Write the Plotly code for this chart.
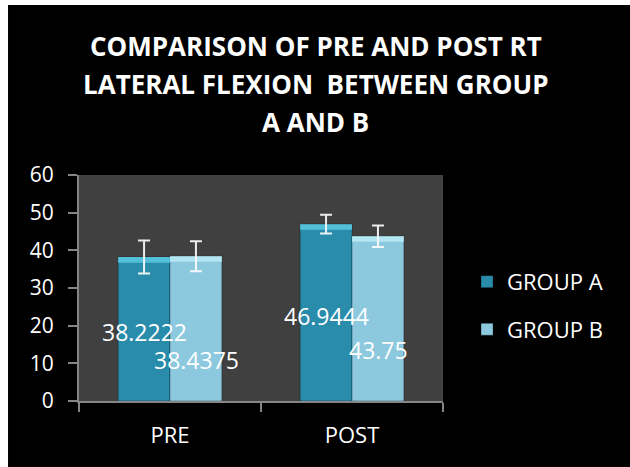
import plotly.graph_objects as go

# Measurements (degrees) for right lateral flexion
phases = ["PRE", "POST"]
group_a = [38.2222, 46.9444]
group_b = [38.4375, 43.75]
err_a = [4.4, 2.5]
err_b = [4.0, 2.85]
series_names = ["GROUP A", "GROUP B"]
y_ticks = [0, 10, 20, 30, 40, 50, 60]

FONT = "Open Sans"
AXIS_GREY = "#868686"
COLOR_A = "#2a8cab"
COLOR_B = "#8cc8de"
TOP_A = "#58c6df"
TOP_B = "#b8e9f5"
BARGAP = 0.43
BEVEL = 1.5   # depth of the light top band, in axis units

series = [
    (series_names[0], group_a, err_a, COLOR_A, TOP_A, "a"),
    (series_names[1], group_b, err_b, COLOR_B, TOP_B, "b"),
]

fig = go.Figure()
# main bodies of the bars
for name, vals, errs, col, top, grp in series:
    fig.add_trace(go.Bar(
        x=phases, y=vals, name=name, legendgroup=grp, offsetgroup=grp,
        marker=dict(color=col, line=dict(color="rgba(0,0,0,0.3)", width=1)),
    ))
# light band on top of each bar, carrying the error bars
for name, vals, errs, col, top, grp in series:
    fig.add_trace(go.Bar(
        x=phases, y=[BEVEL] * len(vals), base=[v - BEVEL for v in vals],
        name=name, legendgroup=grp, offsetgroup=grp, showlegend=False,
        marker=dict(color=top, line=dict(width=0)), opacity=0.9,
        error_y=dict(type="data", array=errs, visible=True,
                     color="white", thickness=2, width=6),
    ))

# value labels at the middle of each bar
for i, ph in enumerate(phases):
    for vals, xs, ys in [(group_a, -26, -3), (group_b, 26, -31)]:
        fig.add_annotation(
            x=ph, y=vals[i] / 2, xref="x", yref="y",
            text=f"{vals[i]:g}", showarrow=False,
            xshift=xs, yshift=ys,
            font=dict(family=FONT, size=23, color="white"),
        )

# title split over three centred lines
title_lines = ["COMPARISON OF PRE AND POST RT",
               "LATERAL FLEXION  BETWEEN GROUP",
               "A AND B"]
for line, yp in zip(title_lines, [1.571, 1.403, 1.235]):
    fig.add_annotation(
        x=0.65, y=yp, xref="paper", yref="paper",
        text=f"<b>{line.replace('  ', '&nbsp; ')}</b>", showarrow=False,
        xanchor="center", yanchor="middle",
        font=dict(family=FONT, size=26, color="white"),
    )

# white frame strips at the top and left edges of the page
fig.add_shape(type="rect", xref="paper", yref="paper",
              x0=-0.25, x1=-0.195, y0=-0.5, y1=1.9,
              fillcolor="white", line=dict(width=0), layer="above")
fig.add_shape(type="rect", xref="paper", yref="paper",
              x0=-0.25, x1=1.6, y0=1.752, y1=1.9,
              fillcolor="white", line=dict(width=0), layer="above")

fig.update_layout(
    width=630, height=467,
    margin=dict(l=79, r=187, t=175, b=66),
    paper_bgcolor="black",
    plot_bgcolor="#404040",
    barmode="group",
    bargap=BARGAP,
    bargroupgap=0,
    showlegend=True,
    legend=dict(
        x=1.066, y=0.62, xanchor="left", yanchor="top",
        font=dict(family=FONT, size=22, color="white"),
        bgcolor="rgba(0,0,0,0)", tracegroupgap=16,
    ),
    font=dict(family=FONT, color="white"),
)
fig.update_xaxes(
    type="category", showgrid=False, zeroline=False,
    showline=True, linecolor=AXIS_GREY, linewidth=2,
    ticks="outside", tickson="boundaries", ticklen=9,
    tickcolor=AXIS_GREY, tickwidth=2, ticklabelstandoff=14,
    tickfont=dict(family=FONT, size=22, color="white"),
)
fig.update_yaxes(
    range=[0, 60], tickvals=y_ticks, showgrid=False, zeroline=False,
    showline=True, linecolor=AXIS_GREY, linewidth=2,
    ticks="outside", ticklen=9, tickcolor=AXIS_GREY, tickwidth=2,
    ticklabelstandoff=10,
    tickfont=dict(family=FONT, size=21, color="white"),
)

fig.write_html("out.html")
